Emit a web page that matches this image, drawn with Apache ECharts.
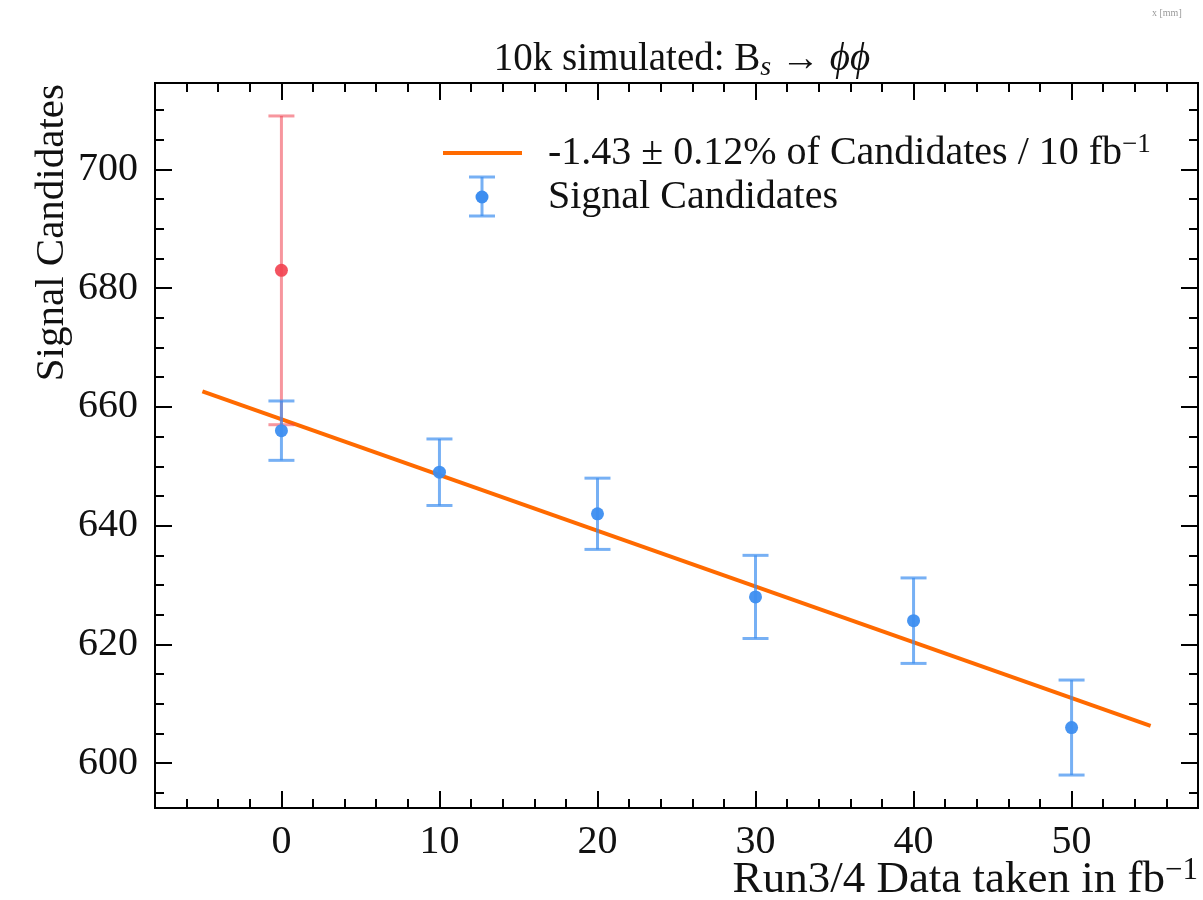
<!DOCTYPE html>
<html>
<head>
<meta charset="utf-8">
<script src="https://cdn.jsdelivr.net/npm/echarts@6/dist/echarts.min.js"></script>
<style>
html,body{margin:0;padding:0;background:#fff;}
#chart{width:1203px;height:900px;}
</style>
</head>
<body>
<div id="chart"></div>
<script>
// ---- data ----
const lumi = [0, 10, 20, 30, 40, 50];
const signal = [656, 649, 642, 628, 624, 606];
const signalErr = [5, 5.6, 6, 7, 7.2, 8];
const truthX = [0];
const truthY = [683];
const truthErr = [26];
const fitX = [-5, 55];
const fitY = [662.6, 606.3];
const xMajor = [0, 10, 20, 30, 40, 50];
const xMinor = [-6, -4, -2, 2, 4, 6, 8, 12, 14, 16, 18, 22, 24, 26, 28, 32, 34, 36, 38, 42, 44, 46, 48, 52, 54, 56];
const yMajor = [600, 620, 640, 660, 680, 700];
const yMinor = [595, 605, 610, 615, 625, 630, 635, 645, 650, 655, 665, 670, 675, 685, 690, 695, 705, 710];
const xRange = [-8, 58];
const yRange = [592.45, 714.55];

const FONT = '"Liberation Serif","DejaVu Serif",serif';
const BLUE = '#3d8ef0';
const BLUE_BAR = 'rgba(61,142,240,0.7)';
const RED = '#f2404f';
const RED_BAR = 'rgba(240,64,79,0.55)';
const ORANGE = '#ff6a00';

const chart = echarts.init(document.getElementById('chart'), null, {renderer: 'canvas'});

function xAx(pos, vals, len, labels) {
  return {
    type: 'value', position: pos, min: xRange[0], max: xRange[1],
    axisLine: {show: true, onZero: false, lineStyle: {color: '#000', width: 2}},
    axisTick: {show: true, inside: true, length: len, customValues: vals, lineStyle: {color: '#000', width: 2}},
    axisLabel: labels ? {show: true, customValues: vals, fontFamily: FONT, fontSize: 40, color: '#111', margin: 14} : {show: false},
    splitLine: {show: false}
  };
}
function yAx(pos, vals, len, labels) {
  return {
    type: 'value', position: pos, min: yRange[0], max: yRange[1],
    axisLine: {show: true, onZero: false, lineStyle: {color: '#000', width: 2}},
    axisTick: {show: true, inside: true, length: len, customValues: vals, lineStyle: {color: '#000', width: 2}},
    axisLabel: labels ? {show: true, customValues: vals, fontFamily: FONT, fontSize: 40, color: '#111', margin: 17} : {show: false},
    splitLine: {show: false}
  };
}

function errRender(color) {
  return function (params, api) {
    const x = api.value(0), y = api.value(1), e = api.value(2);
    const top = api.coord([x, y + e]);
    const bot = api.coord([x, y - e]);
    const hw = 13;
    const st = {stroke: color, lineWidth: 3};
    return {
      type: 'group',
      children: [
        {type: 'line', shape: {x1: top[0], y1: top[1], x2: bot[0], y2: bot[1]}, style: st},
        {type: 'line', shape: {x1: top[0] - hw, y1: top[1], x2: top[0] + hw, y2: top[1]}, style: st},
        {type: 'line', shape: {x1: bot[0] - hw, y1: bot[1], x2: bot[0] + hw, y2: bot[1]}, style: st}
      ]
    };
  };
}

const option = {
  backgroundColor: '#fff',
  animation: false,
  title: {
    text: '10k simulated: B{sub|s} → {it|ϕϕ}',
    left: 677, top: 33, textAlign: 'center',
    textStyle: {
      fontFamily: FONT, fontSize: 39, fontWeight: 'normal', color: '#111',
      rich: {
        sub: {fontFamily: FONT, fontSize: 28, fontStyle: 'italic', color: '#111', verticalAlign: 'bottom', padding: [16, 0, 0, 0]},
        it: {fontFamily: FONT, fontSize: 39, fontStyle: 'italic', color: '#111'}
      }
    }
  },
  grid: {left: 155, right: 5, top: 83, bottom: 92, containLabel: false},
  xAxis: [
    xAx('bottom', xMajor, 17, true),
    xAx('bottom', xMinor, 9, false),
    xAx('top', xMajor, 17, false),
    xAx('top', xMinor, 9, false)
  ],
  yAxis: [
    yAx('left', yMajor, 17, true),
    yAx('left', yMinor, 9, false),
    yAx('right', yMajor, 17, false),
    yAx('right', yMinor, 9, false)
  ],
  series: [
    {
      type: 'line', name: 'fit', z: 2,
      data: fitX.map((x, i) => [x, fitY[i]]),
      showSymbol: false, symbol: 'none',
      lineStyle: {color: ORANGE, width: 4}
    },
    {
      type: 'custom', name: 'truthErr', z: 3,
      renderItem: errRender(RED_BAR),
      encode: {x: 0, y: 1},
      data: truthX.map((x, i) => [x, truthY[i], truthErr[i]])
    },
    {
      type: 'scatter', name: 'truth', z: 4,
      symbolSize: 13, itemStyle: {color: RED, opacity: 0.9},
      data: truthX.map((x, i) => [x, truthY[i]])
    },
    {
      type: 'custom', name: 'sigErr', z: 5,
      renderItem: errRender(BLUE_BAR),
      encode: {x: 0, y: 1},
      data: lumi.map((x, i) => [x, signal[i], signalErr[i]])
    },
    {
      type: 'scatter', name: 'Signal Candidates', z: 6,
      symbolSize: 13, itemStyle: {color: BLUE, opacity: 0.95},
      data: lumi.map((x, i) => [x, signal[i]])
    }
  ],
  graphic: [
    {type: 'text', left: 1152, top: 8, style: {text: 'x [mm]', fontFamily: FONT, fontSize: 10, fill: '#999'}},
    {
      type: 'text', x: 52, y: 84, rotation: Math.PI / 2,
      style: {text: 'Signal Candidates', fontFamily: FONT, fontSize: 41, fill: '#111', align: 'right', verticalAlign: 'middle'}
    },
    {
      type: 'text', x: 1198, y: 880,
      style: {
        text: 'Run3/4 Data taken in fb{sup|−1}', fontFamily: FONT, fontSize: 45, fill: '#111', align: 'right', verticalAlign: 'middle',
        rich: {sup: {fontFamily: FONT, fontSize: 31, fill: '#111', verticalAlign: 'top', padding: [0, 0, 18, 0]}}
      }
    },
    // legend
    {type: 'line', shape: {x1: 443, y1: 153, x2: 522, y2: 153}, style: {stroke: ORANGE, lineWidth: 4}},
    {
      type: 'text', x: 548, y: 153,
      style: {
        text: '-1.43 ± 0.12% of Candidates / 10 fb{sup|−1}', fontFamily: FONT, fontSize: 40, fill: '#111', align: 'left', verticalAlign: 'middle',
        rich: {sup: {fontFamily: FONT, fontSize: 27, fill: '#111', verticalAlign: 'top', padding: [0, 0, 16, 0]}}
      }
    },
    {type: 'line', shape: {x1: 482, y1: 177, x2: 482, y2: 216}, style: {stroke: BLUE_BAR, lineWidth: 3}},
    {type: 'line', shape: {x1: 469, y1: 177, x2: 495, y2: 177}, style: {stroke: BLUE_BAR, lineWidth: 3}},
    {type: 'line', shape: {x1: 469, y1: 216, x2: 495, y2: 216}, style: {stroke: BLUE_BAR, lineWidth: 3}},
    {type: 'circle', shape: {cx: 482, cy: 197, r: 6.5}, style: {fill: BLUE}},
    {
      type: 'text', x: 548, y: 197,
      style: {text: 'Signal Candidates', fontFamily: FONT, fontSize: 40, fill: '#111', align: 'left', verticalAlign: 'middle'}
    }
  ]
};
chart.setOption(option);
</script>
</body>
</html>
